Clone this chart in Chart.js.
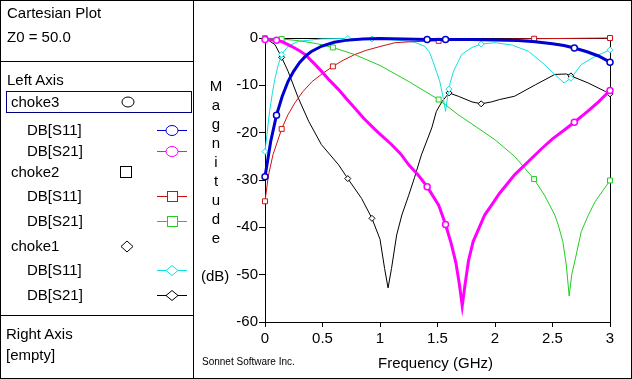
<!DOCTYPE html>
<html><head><meta charset="utf-8">
<script src="https://cdn.jsdelivr.net/npm/chart.js@4"></script>
<style>
html,body{margin:0;padding:0;background:#fff;}
body{width:632px;height:379px;position:relative;overflow:hidden;font-family:"Liberation Sans",Arial,sans-serif;font-size:15px;color:#000;}
#c{position:absolute;left:0;top:0;}
.t{position:absolute;white-space:nowrap;line-height:18px;}
.ln{position:absolute;background:#000;}
#mag{position:absolute;left:201px;top:76px;width:30px;text-align:center;line-height:19px;}
</style></head><body>
<canvas id="c" width="632" height="379"></canvas>
<div class="ln" style="left:0;top:0;width:632px;height:1px"></div>
<div class="ln" style="left:0;top:378px;width:632px;height:1px"></div>
<div class="ln" style="left:0;top:0;width:1px;height:379px"></div>
<div class="ln" style="left:631px;top:0;width:1px;height:379px"></div>
<div class="ln" style="left:193px;top:0;width:1px;height:379px"></div>
<div class="ln" style="left:0;top:61px;width:193px;height:1px"></div>
<div class="ln" style="left:0;top:315px;width:193px;height:1px"></div>
<div style="position:absolute;left:6px;top:91px;width:184px;height:20px;border:1px solid #000080"></div>
<svg style="position:absolute;left:0;top:0" width="193" height="379">
 <g fill="#fff" stroke-width="1">
  <ellipse cx="128" cy="102" rx="6" ry="5" stroke="#000"/>
  <line x1="157" y1="130.5" x2="187" y2="130.5" stroke="#0000d0"/>
  <ellipse cx="172" cy="130.5" rx="6" ry="5" stroke="#0000d0"/>
  <line x1="157" y1="151.5" x2="187" y2="151.5" stroke="#ff00ff"/>
  <ellipse cx="172" cy="151.5" rx="6" ry="5" stroke="#ff00ff"/>
  <rect x="120.5" y="166.5" width="11" height="11" stroke="#000"/>
  <line x1="157" y1="196.5" x2="187" y2="196.5" stroke="#d01010"/>
  <rect x="167.5" y="191.5" width="10" height="10" stroke="#d01010"/>
  <line x1="157" y1="221.5" x2="187" y2="221.5" stroke="#22cc22"/>
  <rect x="167.5" y="216.5" width="10" height="10" stroke="#22cc22"/>
  <polygon points="121,246.5 127,241 133,246.5 127,252" stroke="#000"/>
  <line x1="157" y1="270.5" x2="187" y2="270.5" stroke="#10e0e0"/>
  <polygon points="166,270.5 172,265.5 178,270.5 172,275.5" stroke="#10e0e0"/>
  <line x1="157" y1="295.5" x2="187" y2="295.5" stroke="#000"/>
  <polygon points="166,295.5 172,290.5 178,295.5 172,300.5" stroke="#000"/>
 </g>
</svg>
<div class="t" style="left:7px;top:4px">Cartesian Plot</div>
<div class="t" style="left:7px;top:28px">Z0 = 50.0</div>
<div class="t" style="left:7px;top:71px">Left Axis</div>
<div class="t" style="left:11px;top:93px">choke3</div>
<div class="t" style="left:27px;top:121px">DB[S11]</div>
<div class="t" style="left:27px;top:142px">DB[S21]</div>
<div class="t" style="left:11px;top:163px">choke2</div>
<div class="t" style="left:27px;top:187px">DB[S11]</div>
<div class="t" style="left:27px;top:212px">DB[S21]</div>
<div class="t" style="left:11px;top:237px">choke1</div>
<div class="t" style="left:27px;top:261px">DB[S11]</div>
<div class="t" style="left:27px;top:286px">DB[S21]</div>
<div class="t" style="left:6px;top:325px">Right Axis</div>
<div class="t" style="left:6px;top:346px">[empty]</div>
<div id="mag">M<br>a<br>g<br>n<br>i<br>t<br>u<br>d<br>e</div>
<div class="t" style="left:201px;top:267px">(dB)</div>
<div class="t" style="left:378px;top:354px">Frequency (GHz)</div>
<div class="t" style="left:202px;top:353px;font-size:10px">Sonnet Software Inc.</div>
<script>
// ---- data ----
const xTicks = [0, 0.5, 1, 1.5, 2, 2.5, 3];
const xTickLabels = ['0', '0.5', '1', '1.5', '2', '2.5', '3'];
const yTicks = [-60, -50, -40, -30, -20, -10, 0];
const yTickLabels = ['-60', '-50', '-40', '-30', '-20', '-10', '0'];

// choke3
const c3s11Freq = [0, 0.05, 0.1, 0.15, 0.2, 0.25, 0.3, 0.35, 0.4, 0.49, 0.6, 0.7, 0.85, 1.0, 1.41, 1.57, 1.8, 2.0, 2.2, 2.35, 2.5, 2.6, 2.69, 2.8, 2.9, 3.0];
const c3s11Db   = [-29.3, -21.8, -16.3, -12.3, -9.2, -7.0, -5.2, -3.9, -2.9, -1.75, -0.9, -0.5, -0.2, -0.1, -0.3, -0.3, -0.3, -0.4, -0.55, -0.8, -1.2, -1.6, -2.1, -2.9, -3.8, -5.1];
const c3s21Freq = [0, 0.1, 0.15, 0.23, 0.3, 0.35, 0.42, 0.49, 0.56, 0.64, 0.71, 0.78, 0.86, 0.96, 1.0, 1.1, 1.18, 1.25, 1.33, 1.41, 1.51, 1.57, 1.62, 1.66, 1.69, 1.715, 1.74, 1.77, 1.81, 1.86, 1.91, 1.97, 2.04, 2.1, 2.17, 2.29, 2.4, 2.5, 2.6, 2.69, 2.8, 2.9, 3.0];
const c3s21Db   = [-0.3, -0.5, -0.8, -1.75, -2.7, -3.5, -5.2, -7.0, -8.9, -10.9, -12.9, -14.8, -17.0, -19.4, -20.3, -22.5, -24.5, -26.8, -28.9, -31.4, -35.3, -39.4, -43.5, -47.5, -52.0, -56.6, -52.0, -47.0, -43.0, -40.2, -37.4, -35.3, -32.8, -31.0, -28.9, -26.1, -23.5, -21.3, -19.5, -17.8, -15.6, -13.5, -11.1];
const c3Markers = [0, 0.1, 1.41, 1.57, 2.69, 3.0];

// choke2
const c2s11Freq = [0, 0.03, 0.07, 0.145, 0.2, 0.26, 0.33, 0.41, 0.5, 0.59, 0.68, 0.78, 0.88, 1.0, 1.13, 1.26, 1.51, 1.8, 2.34, 3.0];
const c2s11Db   = [-34.5, -29.0, -24.6, -19.2, -16.2, -13.7, -11.3, -9.2, -7.5, -6.0, -4.7, -3.5, -2.6, -1.8, -1.0, -0.8, -0.6, -0.35, -0.15, 0];
const c2s21Freq = [0, 0.145, 0.3, 0.45, 0.59, 0.78, 1.0, 1.25, 1.51, 1.68, 1.85, 2.0, 2.17, 2.34, 2.43, 2.52, 2.55, 2.59, 2.62, 2.645, 2.667, 2.7, 2.75, 2.81, 2.87, 3.0];
const c2s21Db   = [0, -0.2, -0.6, -1.2, -2.0, -3.5, -5.8, -9.2, -13.0, -16.2, -19.0, -21.5, -25.0, -29.8, -33.2, -37.4, -39.5, -43.0, -48.0, -54.5, -50.0, -46.5, -40.9, -37.5, -34.6, -30.1];
const c2Markers = [0, 0.145, 0.59, 1.51, 2.34, 3.0];

// choke1
const c1s11Freq = [0, 0.04, 0.065, 0.087, 0.115, 0.145, 0.2, 0.29, 0.49, 0.72, 0.93, 1.05, 1.17, 1.3, 1.39, 1.43, 1.46, 1.52, 1.55, 1.57, 1.59, 1.6, 1.61, 1.64, 1.71, 1.8, 1.88, 2.0, 2.15, 2.29, 2.43, 2.52, 2.6, 2.66, 2.75, 2.87, 3.0];
const c1s11Db   = [-24.0, -15.5, -11.5, -8.5, -5.7, -3.5, -1.75, -0.7, -0.2, -0.1, -0.2, -0.3, -0.5, -0.9, -1.75, -3.0, -4.9, -9.2, -12.7, -15.5, -12.0, -10.8, -9.5, -7.0, -3.5, -2.0, -1.27, -1.0, -1.5, -2.8, -5.6, -7.7, -9.5, -8.5, -5.6, -3.9, -2.5];
const c1s21Freq = [0, 0.087, 0.145, 0.2, 0.29, 0.38, 0.49, 0.64, 0.72, 0.84, 0.93, 1.0, 1.04, 1.07, 1.1, 1.145, 1.19, 1.25, 1.3, 1.36, 1.45, 1.49, 1.54, 1.6, 1.68, 1.8, 1.88, 1.97, 2.04, 2.17, 2.35, 2.52, 2.62, 2.66, 2.81, 2.96, 3.0];
const c1s21Db   = [0, -1.4, -4.1, -7.0, -12.7, -17.6, -22.5, -26.8, -29.7, -33.9, -38.1, -42.5, -48.7, -52.8, -48.7, -41.6, -37.4, -33.2, -29.5, -24.7, -19.0, -15.5, -13.4, -11.6, -12.3, -13.5, -13.9, -13.5, -13.0, -12.3, -9.9, -7.7, -7.6, -8.0, -9.5, -11.3, -11.8];
const c1Markers = [0, 0.145, 0.72, 0.93, 1.6, 1.88, 2.66, 3.0];

// ---- build chart ----
const FONT = {family: '"Liberation Sans", Arial, sans-serif', size: 15};
function pts(f, d) { return f.map((x, i) => ({x: x, y: d[i]})); }
function ds(f, d, color, width, style, markers, r) {
  return {
    data: pts(f, d), borderColor: color, borderWidth: width, tension: 0,
    pointStyle: style, pointBorderColor: color, pointBackgroundColor: '#fff',
    pointBorderWidth: width > 1 ? 1.5 : 1,
    pointRadius: c => (c.raw && markers.includes(c.raw.x)) ? r : 0,
    pointHoverRadius: 0, clip: 8, fill: false
  };
}
const frame = {
  id: 'frame',
  beforeDatasetsDraw(chart) {
    const a = chart.chartArea, g = chart.ctx;
    g.save(); g.strokeStyle = '#000'; g.lineWidth = 1;
    g.strokeRect(Math.round(a.left) + 0.5, Math.round(a.top) + 0.5, Math.round(a.right - a.left), Math.round(a.bottom - a.top));
    g.restore();
  }
};
new Chart(document.getElementById('c'), {
  type: 'line',
  data: {datasets: [
    ds(c3s11Freq, c3s11Db, '#0000d0', 3, 'circle', c3Markers, 3),
    ds(c3s21Freq, c3s21Db, '#ff00ff', 3, 'circle', c3Markers, 3),
    ds(c2s11Freq, c2s11Db, '#d01010', 1, 'rect', c2Markers, 3.5),
    ds(c2s21Freq, c2s21Db, '#22cc22', 1, 'rect', c2Markers, 3.5),
    ds(c1s11Freq, c1s11Db, '#10e0e0', 1, 'rectRot', c1Markers, 3),
    ds(c1s21Freq, c1s21Db, '#000000', 1, 'rectRot', c1Markers, 3)
  ]},
  options: {
    responsive: false, animation: false, devicePixelRatio: 1,
    layout: {padding: {left: 195, right: 22, top: 38, bottom: 0}},
    plugins: {legend: {display: false}, tooltip: {enabled: false}},
    scales: {
      x: {
        type: 'linear', min: 0, max: 3,
        afterFit: s => { s.height = 57; },
        afterBuildTicks: s => { s.ticks = xTicks.map(v => ({value: v})); },
        grid: {drawOnChartArea: false, color: '#000', tickLength: 5},
        border: {display: true, color: '#000'},
        ticks: {color: '#000', font: FONT, padding: 3, maxRotation: 0,
          callback: v => xTickLabels[xTicks.indexOf(v)]}
      },
      y: {
        type: 'linear', min: -60, max: 0,
        afterFit: s => { s.width = 70; },
        afterBuildTicks: s => { s.ticks = yTicks.map(v => ({value: v})); },
        grid: {drawOnChartArea: false, color: '#000', tickLength: 6},
        border: {display: true, color: '#000'},
        ticks: {color: '#000', font: FONT, padding: 1,
          callback: v => yTickLabels[yTicks.indexOf(v)]}
      }
    }
  },
  plugins: [frame]
});
</script>
</body></html>
